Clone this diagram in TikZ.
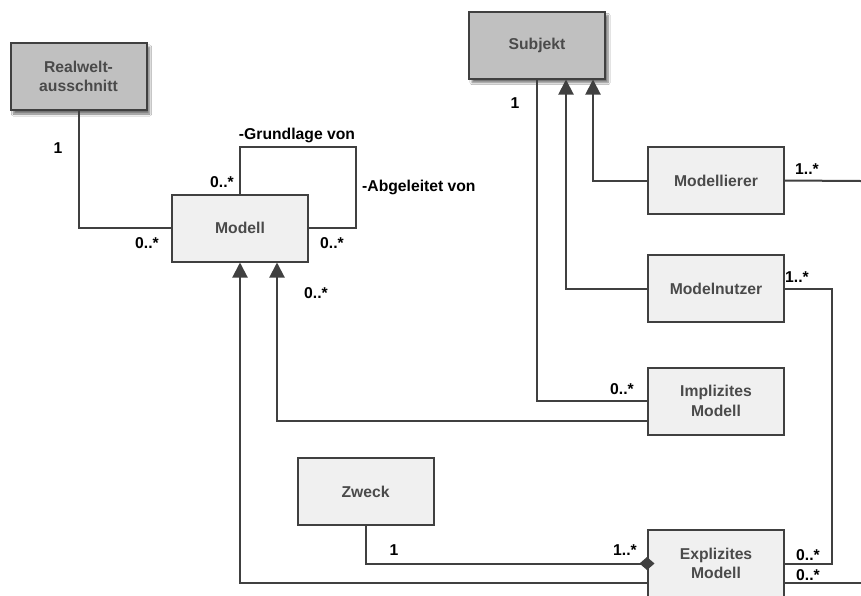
\documentclass[tikz,border=0pt]{standalone}
\usepackage{fontspec}
\setmainfont{Liberation Sans}
\usetikzlibrary{arrows.meta,shadows.blur}
\definecolor{edge}{HTML}{404040}
\definecolor{boxlight}{HTML}{F0F0F0}
\definecolor{boxdark}{HTML}{C0C0C0}
\definecolor{boxtext}{HTML}{4A4A4A}
\tikzset{
  cls/.style={draw=edge, line width=2pt, fill=boxlight, text=boxtext,
    font=\fontsize{15.7}{19.5}\selectfont\bfseries, align=center,
    minimum width=136pt, minimum height=67pt, inner sep=0pt},
  base/.style={cls, fill=boxdark,
    blur shadow={shadow xshift=3pt, shadow yshift=-4pt, shadow blur steps=6, shadow opacity=55}},
  conn/.style={draw=edge, line width=2pt},
  inherit/.style={conn, -{Triangle[length=15pt,width=15pt]}},
  whole/.style={conn, -{Diamond[length=15pt,width=13pt]}, shorten >=-7.5pt},
  mult/.style={font=\fontsize{15.7}{18}\selectfont\bfseries, text=black, inner sep=0pt}
}
\begin{document}
\begin{tikzpicture}[x=1pt,y=-1pt]
\useasboundingbox[fill=white] (0,0) rectangle (861,595);

% classes
\node[base] (real) at (78.5,76.5) {Realwelt-\\ausschnitt};
\node[base] (subj) at (537,45) {Subjekt};
\node[cls] (modell) at (240,228) {Modell};
\node[cls] (mlier) at (716,180.5) {Modellierer};
\node[cls] (mnutz) at (716,288.5) {Modelnutzer};
\node[cls] (impl) at (716,401) {Implizites\\Modell};
\node[cls] (zweck) at (365.5,491.5) {Zweck};
\node[cls] (expl) at (716,563.5) {Explizites\\Modell};

% free ends running off to the right
\coordinate (outA) at (861,181);
\coordinate (outB) at (861,583);

% associations
\draw[conn] (real.south) |- (modell.west);
\draw[conn] (modell.north) -- (240,147) -- (356,147) -- (356,228) -- (modell.east);
\draw[conn] (subj.south) |- (impl.west);
\draw[conn] (mlier.east) -- (outA);
\draw[conn] (mnutz.east) -- (832,288.5) -- (832,563.5) -- (expl.east);
\draw[conn] (784,583) -- (outB);
\draw[whole] (zweck.south) |- (expl.west);

% generalisations
\draw[inherit] (mlier.west) -| (subj.south -| 593,0);
\draw[inherit] (mnutz.west) -| (subj.south -| 566,0);
\draw[inherit] (648,421) -| (modell.south -| 277,0);
\draw[inherit] (648,583) -| (modell.south);

% role names
\node[mult, anchor=base] (gv) at (297,139) {-Grundlage von};
\node[mult, anchor=base west] (av) at (362,191) {-Abgeleitet von};

% multiplicities
\node[mult] (m1) at (58,148) {1};
\node[mult] (m2) at (147,243) {0..*};
\node[mult] (m3) at (222,182) {0..*};
\node[mult] (m4) at (332,243) {0..*};
\node[mult] (m5) at (316,293) {0..*};
\node[mult] (m6) at (515,103) {1};
\node[mult] (m7) at (807,169) {1..*};
\node[mult] (m8) at (797,277) {1..*};
\node[mult] (m9) at (622,389) {0..*};
\node[mult] (m10) at (394,550) {1};
\node[mult] (m11) at (625,550) {1..*};
\node[mult] (m12) at (808,555) {0..*};
\node[mult] (m13) at (808,575) {0..*};
\end{tikzpicture}
\end{document}
